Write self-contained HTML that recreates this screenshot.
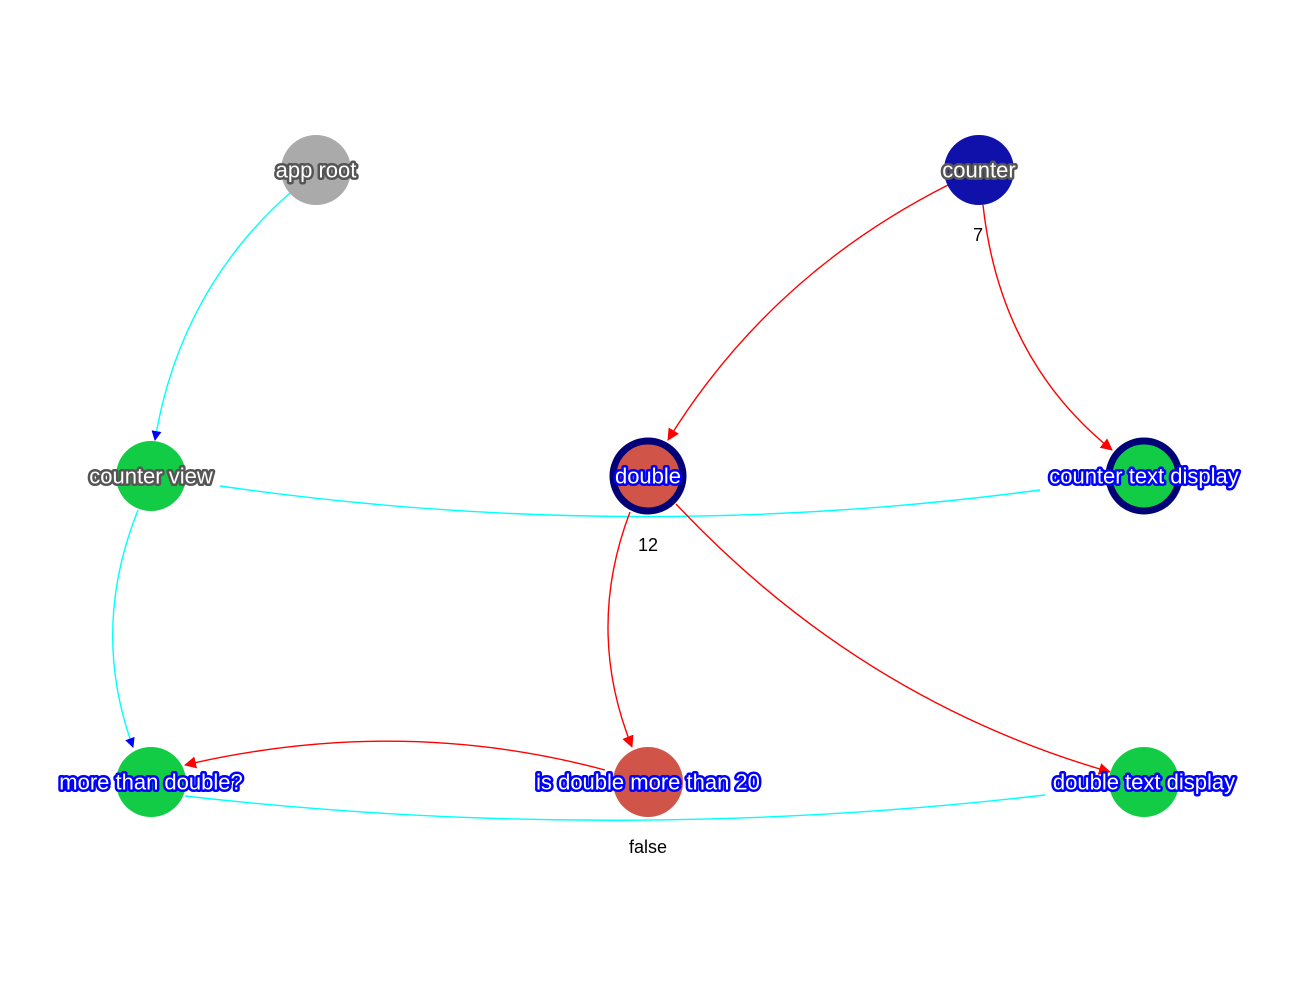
<!DOCTYPE html>
<html><head><meta charset="utf-8"><style>
html,body{margin:0;padding:0;background:#fff}
svg text{font-family:"Liberation Sans",Arial,sans-serif}
.lb{font-size:22px;fill:#fff;stroke-width:5px;stroke-linejoin:round;paint-order:stroke;text-anchor:middle;dominant-baseline:central}
.g{stroke:#555}
.b{stroke:#0000ff}
.v{font-size:18px;fill:#000;text-anchor:middle;dominant-baseline:central}
</style></head><body>
<svg width="1308" height="1000" viewBox="0 0 1308 1000" xmlns="http://www.w3.org/2000/svg">
<defs>
<marker id="ab" markerWidth="10" markerHeight="10" refX="9" refY="5" orient="auto" markerUnits="userSpaceOnUse"><path d="M0,0 L10,5 L0,10 Z" fill="#0000ff"/></marker>
<marker id="ar" markerWidth="12" markerHeight="12" refX="11" refY="6" orient="auto" markerUnits="userSpaceOnUse"><path d="M0,0 L12,6 L0,12 Z" fill="#ff0000"/></marker>
</defs>
<g fill="none" stroke-width="1.4">
<path d="M290,193 Q180,290 155,440" stroke="#00ffff" marker-end="url(#ab)"/>
<path d="M138,510 Q90,630 133,747" stroke="#00ffff" marker-end="url(#ab)"/>
<path d="M220,486 Q630,545 1040,490" stroke="#00ffff"/>
<path d="M185,796 Q615,845 1045,795" stroke="#00ffff"/>
<path d="M948,185 Q770,275 668,440" stroke="#ff0000" marker-end="url(#ar)"/>
<path d="M983,205 Q1000,360 1112,450" stroke="#ff0000" marker-end="url(#ar)"/>
<path d="M630,512 Q585,630 632,747" stroke="#ff0000" marker-end="url(#ar)"/>
<path d="M676,504 Q860,700 1110,772" stroke="#ff0000" marker-end="url(#ar)"/>
<path d="M605,770 Q400,715 185,765" stroke="#ff0000" marker-end="url(#ar)"/>
</g>
<circle cx="316" cy="170" r="35" fill="#aaaaaa"/>
<circle cx="979" cy="170" r="35" fill="#1010aa"/>
<circle cx="151" cy="476" r="35" fill="#11cc44"/>
<circle cx="648" cy="476" r="35" fill="#d05548" stroke="#000077" stroke-width="7"/>
<circle cx="1144" cy="476" r="35" fill="#11cc44" stroke="#000077" stroke-width="7"/>
<circle cx="151" cy="782" r="35" fill="#11cc44"/>
<circle cx="648" cy="782" r="35" fill="#d05548"/>
<circle cx="1144" cy="782" r="35" fill="#11cc44"/>
<text class="lb g" x="316" y="170">app root</text>
<text class="lb g" x="979" y="170">counter</text>
<text class="lb g" x="151" y="476">counter view</text>
<text class="lb b" x="648" y="476">double</text>
<text class="lb b" x="1144" y="476">counter text display</text>
<text class="lb b" x="151" y="782">more than double?</text>
<text class="lb b" x="648" y="782">is double more than 20</text>
<text class="lb b" x="1144" y="782">double text display</text>
<text class="v" x="978" y="235">7</text>
<text class="v" x="648" y="545">12</text>
<text class="v" x="648" y="847">false</text>
</svg>
</body></html>
